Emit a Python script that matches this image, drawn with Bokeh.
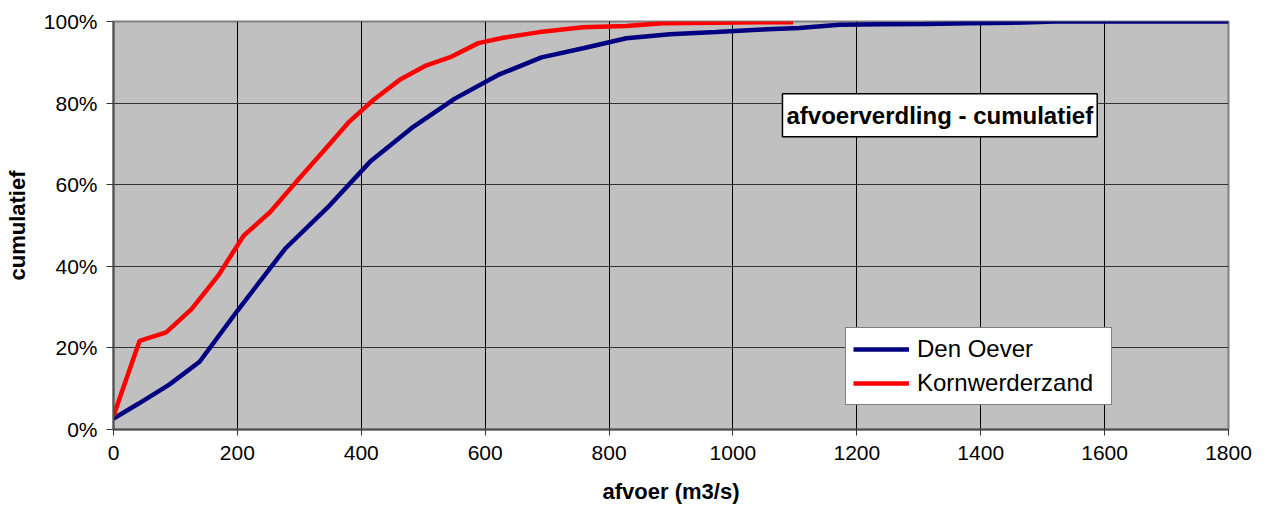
from bokeh.plotting import figure
from bokeh.models import Range1d, NumeralTickFormatter, Legend, LegendItem, Label, FixedTicker
from bokeh.embed import file_html
from bokeh.resources import INLINE

# Data (afvoer in m3/s, cumulative fraction)
den_oever_x = [0, 40, 90, 139, 200, 277, 345, 414, 484, 551, 621, 691, 760, 828, 898,
               973, 1040, 1107, 1172, 1240, 1310, 1382, 1452, 1520, 1590, 1660, 1730, 1800]
den_oever_y = [0.027, 0.063, 0.110, 0.166, 0.291, 0.443, 0.543, 0.656, 0.742, 0.811, 0.869,
               0.912, 0.935, 0.959, 0.969, 0.974, 0.980, 0.984, 0.992, 0.993, 0.994, 0.996,
               0.997, 1.0, 1.0, 1.0, 1.0, 1.0]

korn_x = [0, 42, 85, 126, 169, 210, 253, 295, 337, 379, 419, 462, 503, 546, 589, 629,
          688, 758, 828, 887, 973, 1040, 1097]
korn_y = [0.033, 0.217, 0.238, 0.295, 0.377, 0.475, 0.533, 0.607, 0.679, 0.752, 0.807,
          0.857, 0.891, 0.914, 0.947, 0.960, 0.974, 0.986, 0.989, 0.996, 0.997, 0.998, 0.998]

x_ticks = [0, 200, 400, 600, 800, 1000, 1200, 1400, 1600, 1800]
y_ticks = [0, 0.2, 0.4, 0.6, 0.8, 1.0]

FONT = "Liberation Sans"

p = figure(width=1270, height=516, output_backend="svg", toolbar_location=None,
           x_range=Range1d(0, 1800), y_range=Range1d(0, 1),
           min_border_left=113, min_border_right=42, min_border_top=21, min_border_bottom=87)

p.background_fill_color = "#C0C0C0"
p.border_fill_color = "white"
p.outline_line_color = "#808080"
p.outline_line_width = 2

p.xaxis.ticker = FixedTicker(ticks=x_ticks)
p.yaxis.ticker = FixedTicker(ticks=y_ticks)
p.yaxis.formatter = NumeralTickFormatter(format="0%")

for ax in (p.xaxis[0], p.yaxis[0]):
    ax.major_label_text_font = FONT
    ax.major_label_text_font_size = "21px"
    ax.major_label_text_color = "black"
    ax.axis_label_text_font = FONT
    ax.axis_label_text_font_size = "22px"
    ax.axis_label_text_font_style = "bold"
    ax.axis_label_text_color = "black"
    ax.minor_tick_line_color = None
    ax.major_tick_in = 0
    ax.major_tick_line_color = "#333333"
    ax.axis_line_color = "#505050"
    ax.axis_line_width = 2

p.xaxis.major_tick_out = 6
p.yaxis.major_tick_out = 7
p.xaxis.major_label_standoff = 10
p.yaxis.major_label_standoff = 9
p.xaxis.axis_label = "afvoer (m3/s)"
p.yaxis.axis_label = "cumulatief"
p.xaxis.axis_label_standoff = 16
p.yaxis.axis_label_standoff = 11

p.xgrid.grid_line_color = "black"
p.xgrid.grid_line_width = 1
p.ygrid.grid_line_color = "#333333"
p.ygrid.grid_line_width = 1

r1 = p.line(den_oever_x, den_oever_y, line_color="#000080", line_width=4.5)
r2 = p.line(korn_x, korn_y, line_color="#FF0000", line_width=4.5)

legend = Legend(items=[LegendItem(label="Den Oever", renderers=[r1]),
                       LegendItem(label="Kornwerderzand", renderers=[r2])],
                location=(732, 24))
legend.label_text_font = FONT
legend.label_text_font_size = "24px"
legend.label_text_color = "black"
legend.glyph_width = 56
legend.glyph_height = 26
legend.label_height = 26
legend.label_width = 187
legend.label_standoff = 8
legend.spacing = 6
legend.padding = 7
legend.margin = 0
legend.border_line_color = "black"
legend.border_line_width = 1
legend.background_fill_color = "white"
legend.background_fill_alpha = 1
p.add_layout(legend, "center")

title = Label(x=1334, y=0.7705, text="afvoerverdling - cumulatief",
              text_align="center", text_baseline="middle",
              text_font=FONT, text_font_size="24px", text_font_style="bold",
              text_color="black",
              background_fill_color="white", background_fill_alpha=1,
              border_line_color="black", border_line_width=1.5,
              padding=(4, 8))
p.add_layout(title)

open("out.html", "w").write(file_html(p, INLINE))
